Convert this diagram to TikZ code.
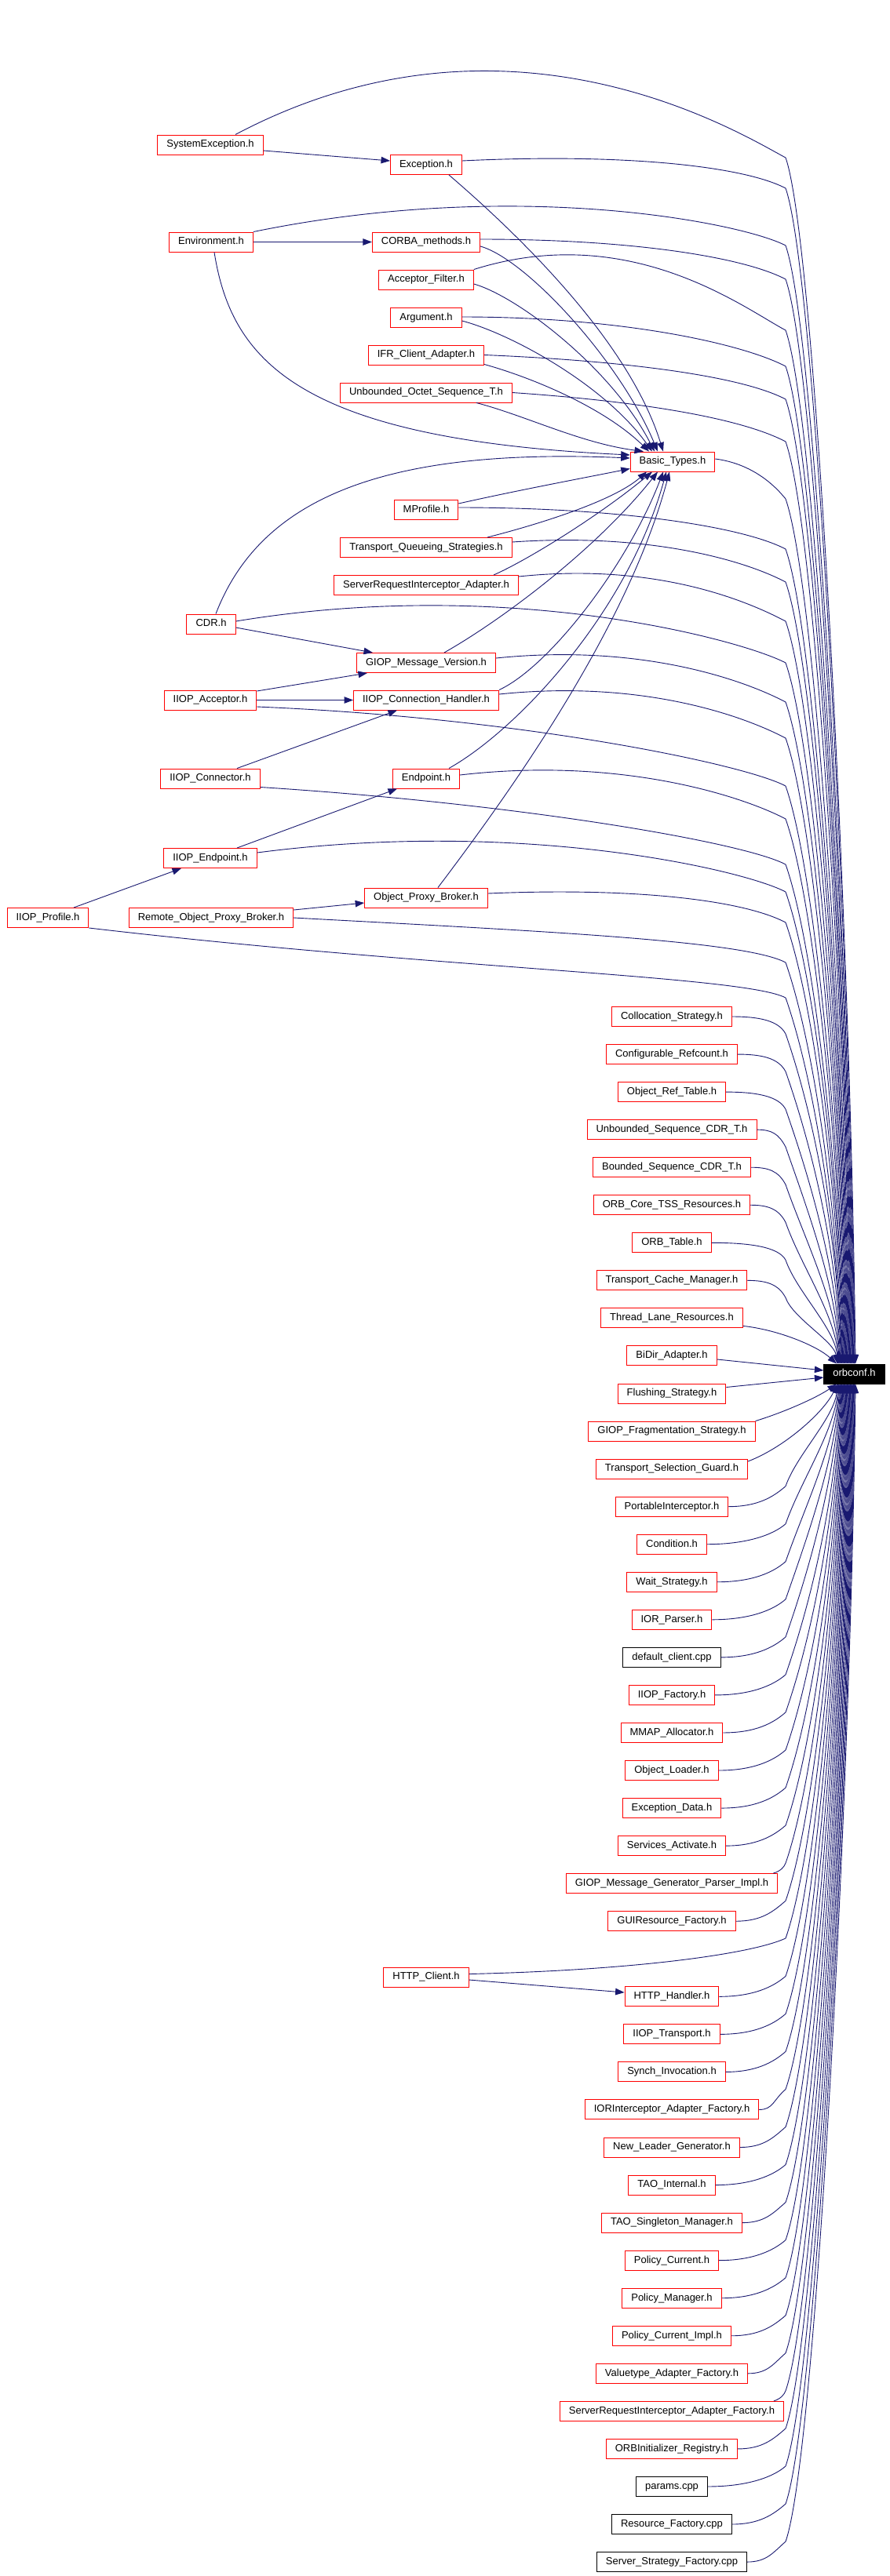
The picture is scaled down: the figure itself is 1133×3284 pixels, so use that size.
\documentclass[tikz,border=0pt]{standalone}
\usepackage{fontspec}
\setmainfont{Liberation Sans}
\usetikzlibrary{arrows.meta}
\definecolor{navy}{HTML}{191970}
\newcommand\dgfont{\fontsize{13pt}{15pt}\selectfont}
\begin{document}
\begin{tikzpicture}[x=1pt,y=-1pt,
  file/.style={draw=red, line width=1pt, fill=white, font=\dgfont, inner xsep=11.5pt, inner ysep=0pt, minimum height=25pt, text height=9.5pt, text depth=2.8pt},
  blk/.style={file, draw=black},
  cur/.style={file, draw=black, fill=black, text=white},
  edge/.style={draw=navy, line width=0.9pt, -{Triangle[length=11.5pt,width=8.5pt]}}]
\useasboundingbox (0,0) rectangle (1133,3284);
\fill[white] (0,0) rectangle (1133,3284);
% ---------- nodes ----------
\node[file] (iprof) at (61,1170) {IIOP\_Profile.h};
\node[file] (sysexc) at (268,184.5) {SystemException.h};
\node[file] (env) at (269,308.5) {Environment.h};
\node[file] (cdr) at (269,795.5) {CDR.h};
\node[file] (iacc) at (268,892.5) {IIOP\_Acceptor.h};
\node[file] (icon) at (268,992.5) {IIOP\_Connector.h};
\node[file] (iend) at (268,1094) {IIOP\_Endpoint.h};
\node[file] (ropb) at (269,1170) {Remote\_Object\_Proxy\_Broker.h};
\node[file] (exc) at (543,210) {Exception.h};
\node[file] (corba) at (543,308.5) {CORBA\_methods.h};
\node[file] (accf) at (543,356.5) {Acceptor\_Filter.h};
\node[file] (arg) at (543,405) {Argument.h};
\node[file] (ifr) at (543,452.5) {IFR\_Client\_Adapter.h};
\node[file] (uos) at (543,500.5) {Unbounded\_Octet\_Sequence\_T.h};
\node[file] (mprof) at (543,650) {MProfile.h};
\node[file] (tqs) at (543,698) {Transport\_Queueing\_Strategies.h};
\node[file] (sria) at (543,746) {ServerRequestInterceptor\_Adapter.h};
\node[file] (gmv) at (543,845) {GIOP\_Message\_Version.h};
\node[file] (ich) at (543,892.5) {IIOP\_Connection\_Handler.h};
\node[file] (endp) at (543,992.5) {Endpoint.h};
\node[file] (opb) at (543,1144.5) {Object\_Proxy\_Broker.h};
\node[file] (httpc) at (543,2520.5) {HTTP\_Client.h};
\node[file] (bt) at (857,588.5) {Basic\_Types.h};
\foreach \k/\t/\s in {
 0/{Collocation\_Strategy.h}/file,
 1/{Configurable\_Refcount.h}/file,
 2/{Object\_Ref\_Table.h}/file,
 3/{Unbounded\_Sequence\_CDR\_T.h}/file,
 4/{Bounded\_Sequence\_CDR\_T.h}/file,
 5/{ORB\_Core\_TSS\_Resources.h}/file,
 6/{ORB\_Table.h}/file,
 7/{Transport\_Cache\_Manager.h}/file,
 8/{Thread\_Lane\_Resources.h}/file,
 9/{BiDir\_Adapter.h}/file,
 10/{Flushing\_Strategy.h}/file,
 11/{GIOP\_Fragmentation\_Strategy.h}/file,
 12/{Transport\_Selection\_Guard.h}/file,
 13/{PortableInterceptor.h}/file,
 14/{Condition.h}/file,
 15/{Wait\_Strategy.h}/file,
 16/{IOR\_Parser.h}/file,
 17/{default\_client.cpp}/blk,
 18/{IIOP\_Factory.h}/file,
 19/{MMAP\_Allocator.h}/file,
 20/{Object\_Loader.h}/file,
 21/{Exception\_Data.h}/file,
 22/{Services\_Activate.h}/file,
 23/{GIOP\_Message\_Generator\_Parser\_Impl.h}/file,
 24/{GUIResource\_Factory.h}/file,
 26/{HTTP\_Handler.h}/file,
 27/{IIOP\_Transport.h}/file,
 28/{Synch\_Invocation.h}/file,
 29/{IORInterceptor\_Adapter\_Factory.h}/file,
 30/{New\_Leader\_Generator.h}/file,
 31/{TAO\_Internal.h}/file,
 32/{TAO\_Singleton\_Manager.h}/file,
 33/{Policy\_Current.h}/file,
 34/{Policy\_Manager.h}/file,
 35/{Policy\_Current\_Impl.h}/file,
 36/{Valuetype\_Adapter\_Factory.h}/file,
 37/{ServerRequestInterceptor\_Adapter\_Factory.h}/file,
 38/{ORBInitializer\_Registry.h}/file,
 39/{params.cpp}/blk,
 40/{Resource\_Factory.cpp}/blk,
 41/{Server\_Strategy\_Factory.cpp}/blk}
 {\node[\s] (r\k) at (856,{1296+48.05*\k}) {\t};}
\node[cur] (orb) at (1088.5,1751.5) {orbconf.h};
% ---------- short edges ----------
\draw[edge] ([yshift=-7.5pt]sysexc.east) -- ([yshift=5pt]exc.west);
\draw[edge] (env.east) -- (corba.west);
\draw[edge] ([yshift=-4.5pt]cdr.east) -- ([xshift=-68pt]gmv.north);
\draw[edge] ([yshift=11.5pt]iacc.east) -- ([xshift=-75pt]gmv.south);
\draw[edge] (iacc.east) -- (ich.west);
\draw[edge] ([xshift=34pt]icon.north) -- ([xshift=-37pt]ich.south);
\draw[edge] ([xshift=34pt]iend.north) -- ([xshift=-37pt]endp.south);
\draw[edge] ([xshift=33pt]iprof.north) -- ([xshift=-37pt]iend.south);
\draw[edge] ([yshift=10pt]ropb.east) -- ([yshift=-6.5pt]opb.west);
\draw[edge] ([yshift=-3.5pt]httpc.east) -- ([yshift=5.3pt]r26.west);
% ---------- edges to Basic_Types.h ----------
\draw[edge] ([xshift=29pt]exc.south) .. controls (650,290) and (800,430) .. ([xshift=-12pt]bt.north);
\draw[edge] ([yshift=-5.5pt]corba.east) .. controls (670,330) and (790,460) .. ([xshift=-19pt]bt.north);
\draw[edge] ([yshift=-5.5pt]accf.east) .. controls (660,378) and (780,470) .. ([xshift=-23pt]bt.north);
\draw[edge] ([yshift=-4pt]arg.east) .. controls (650,425) and (770,490) .. ([xshift=-26pt]bt.north);
\draw[edge] ([yshift=1pt]ifr.south east) .. controls (680,482) and (770,520) .. ([xshift=-30pt]bt.north);
\draw[edge] ([xshift=64pt]uos.south) .. controls (670,530) and (740,565) .. ([xshift=-37pt]bt.north);
\draw[edge] ([xshift=4pt]env.south) .. controls (295,460) and (380,560) .. ([yshift=8.5pt]bt.west);
\draw[edge] ([xshift=6pt]cdr.north) .. controls (330,640) and (480,570) .. ([yshift=4.5pt]bt.west);
\draw[edge] ([yshift=8pt]mprof.east) .. controls (660,625) and (740,610) .. ([yshift=-9pt]bt.west);
\draw[edge] ([xshift=78pt]tqs.north) .. controls (680,670) and (780,640) .. ([xshift=-33pt]bt.south);
\draw[edge] ([xshift=86pt]sria.north) .. controls (670,715) and (760,660) .. ([xshift=-26pt]bt.south);
\draw[edge] ([xshift=23pt]gmv.north) .. controls (640,790) and (760,700) .. ([xshift=-19pt]bt.south);
\draw[edge] (ich.north east) .. controls (700,850) and (800,720) .. ([xshift=-12pt]bt.south);
\draw[edge] ([xshift=29pt]endp.north) .. controls (660,930) and (800,780) .. ([xshift=-8pt]bt.south);
\draw[edge] ([xshift=15pt]opb.north) .. controls (650,1010) and (800,800) .. ([xshift=-4pt]bt.south);
% ---------- long edges to orbconf.h from above ----------
\foreach \i/\n/\anc/\ox/\oy/\xs/\ys/\da/\yk in {
 0/sysexc/north/32/0/300/172/-186/201,
 1/exc/east/0/5/590/205/-10/240,
 2/env/north east/0/0/323/296/-70/313,
 3/corba/east/0/3.5/612/305/0/356,
 4/accf/north east/0/0/604/344/-63/421,
 5/arg/east/0/1/590/404/0/467,
 6/ifr/east/0/0/617/452.5/8/509,
 7/uos/east/0/0/655/500.5/12/563,
 9/mprof/east/0/3/584/647/0/700,
 10/tqs/east/0/7/653/691/-12/742,
 11/sria/east/0/11/663/735/-18/792,
 12/cdr/east/0/3.5/301/792/-58/845,
 13/gmv/east/0/6/633/839/-19/895,
 14/ich/east/0/7.5/637/885/-19/941,
 15/iacc/east/0/-8.5/329/901/14/1002,
 16/endp/east/0/4.5/585/988/-24/1044,
 17/icon/east/0/-11/332/1004/21/1102,
 18/iend/east/0/7/329/1087/-44/1137,
 19/opb/east/0/5.5/623/1139/-8/1176,
 20/ropb/east/0/0/375/1170/17/1227,
 21/iprof/south east/0/0/113/1183/52/1272}
{
 \pgfmathsetmacro\tx{1090-0.8*\i}
 \pgfmathsetmacro\dx{\tx-1088.5}
 \pgfmathsetmacro\dD{1740-\yk}
 \pgfmathsetmacro\lenL{min(0.3*\dD,110)}
 \draw[edge] ([xshift=\ox pt,yshift=\oy pt]\n.\anc) .. controls ({(\xs+1001)/2},{\ys+\da}) and (948,{\yk-28}) .. (1001,\yk)
   .. controls ({1001+0.35*\lenL},{\yk+\lenL}) and ({\tx-6},{1740-0.35*\dD}) .. ([xshift=\dx pt]orb.north);
}
% Basic_Types.h -> orbconf.h
\pgfmathsetmacro\tx{1090-0.8*8}
\pgfmathsetmacro\dx{\tx-1088.5}
\draw[edge] ([yshift=3.5pt]bt.east) .. controls (950,590) and (980,610) .. (1001,636)
   .. controls (1039,746) and ({\tx-6},1354) .. ([xshift=\dx pt]orb.north);
% right column, above orbconf.h
\foreach \k/\xe in {0/933,1/941,2/925,3/965,4/959,5/957,6/907,7/953}
{
 \pgfmathsetmacro\ys{1296+48.05*\k}
 \pgfmathsetmacro\yk{\ys+22}
 \pgfmathsetmacro\tx{1090-0.8*(22+\k)}
 \pgfmathsetmacro\dx{\tx-1088.5}
 \pgfmathsetmacro\dD{1740-\yk}
 \pgfmathsetmacro\lenL{min(0.3*\dD,110)}
 \draw[edge] (r\k.east) .. controls ({(\xe+1001)/2},\ys) and (992,{\ys+5}) .. (1001,\yk)
   .. controls ({1001+0.35*\lenL},{\yk+\lenL}) and ({\tx-4},{1740-0.35*\dD}) .. ([xshift=\dx pt]orb.north);
}
\pgfmathsetmacro\dx{1090-0.8*30-1088.5}
\draw[edge] ([yshift=3pt]r8.south east) .. controls (990,1695) and (1040,1715) .. ([xshift=\dx pt]orb.north);
\draw[edge] ([yshift=-4.5pt]r9.east) -- ([yshift=4.5pt]orb.west);
\draw[edge] ([yshift=8pt]r10.east) -- ([yshift=-4.5pt]orb.west);
% ---------- edges to orbconf.h from below ----------
\pgfmathsetmacro\dx{1066-1088.5}
\draw[edge] (r11.north east) .. controls (1000,1800) and (1040,1782) .. ([xshift=\dx pt]orb.south);
\pgfmathsetmacro\dx{1066+0.8-1088.5}
\draw[edge] ([yshift=9.6pt]r12.east) .. controls (1000,1845) and (1050,1800) .. ([xshift=\dx pt]orb.south);
\foreach \k/\xe in {13/929,14/902,15/916,16/909,17/920,18/912,19/924,20/917,21/921,22/925,24/939,26/917,27/919,28/925,29/969,30/944,31/912,32/947,33/916,34/920,35/933,36/955,38/941,39/903,40/933,41/953}
{
 \pgfmathsetmacro\ys{1296+48.05*\k}
 \pgfmathsetmacro\yk{\ys-26}
 \pgfmathsetmacro\tx{1066+0.8*(\k-11)}
 \pgfmathsetmacro\dx{\tx-1088.5}
 \pgfmathsetmacro\dD{\yk-1763}
 \pgfmathsetmacro\lenL{min(0.3*\dD,110)}
 \draw[edge] (r\k.east) .. controls ({(\xe+1001)/2},\ys) and (985,{\ys-12}) .. (1001,\yk)
   .. controls ({1001+0.35*\lenL},{\yk-\lenL}) and ({\tx-6},{1763+0.35*\dD}) .. ([xshift=\dx pt]orb.south);
}
\foreach \k/\sx in {23/-6,37/-13}
{
 \pgfmathsetmacro\ys{1296+48.05*\k}
 \pgfmathsetmacro\yk{\ys-26}
 \pgfmathsetmacro\tx{1066+0.8*(\k-11)}
 \pgfmathsetmacro\dx{\tx-1088.5}
 \pgfmathsetmacro\dD{\yk-1763}
 \pgfmathsetmacro\lenL{min(0.3*\dD,110)}
 \draw[edge] ([xshift=\sx pt]r\k.north east) .. controls (995,{\ys-16}) and (999,{\ys-21}) .. (1001,\yk)
   .. controls ({1001+0.35*\lenL},{\yk-\lenL}) and ({\tx-6},{1763+0.35*\dD}) .. ([xshift=\dx pt]orb.south);
}
% HTTP_Client.h -> orbconf.h
\pgfmathsetmacro\tx{1066+0.8*14}
\pgfmathsetmacro\dx{\tx-1088.5}
\pgfmathsetmacro\dD{2471-1763}
\pgfmathsetmacro\lenL{min(0.3*\dD,110)}
\draw[edge] ([yshift=4pt]httpc.east) .. controls (800,2512) and (955,2492) .. (1001,2471)
   .. controls ({1001+0.35*\lenL},{2471-\lenL}) and ({\tx-6},{1763+0.35*\dD}) .. ([xshift=\dx pt]orb.south);
\end{tikzpicture}
\end{document}
